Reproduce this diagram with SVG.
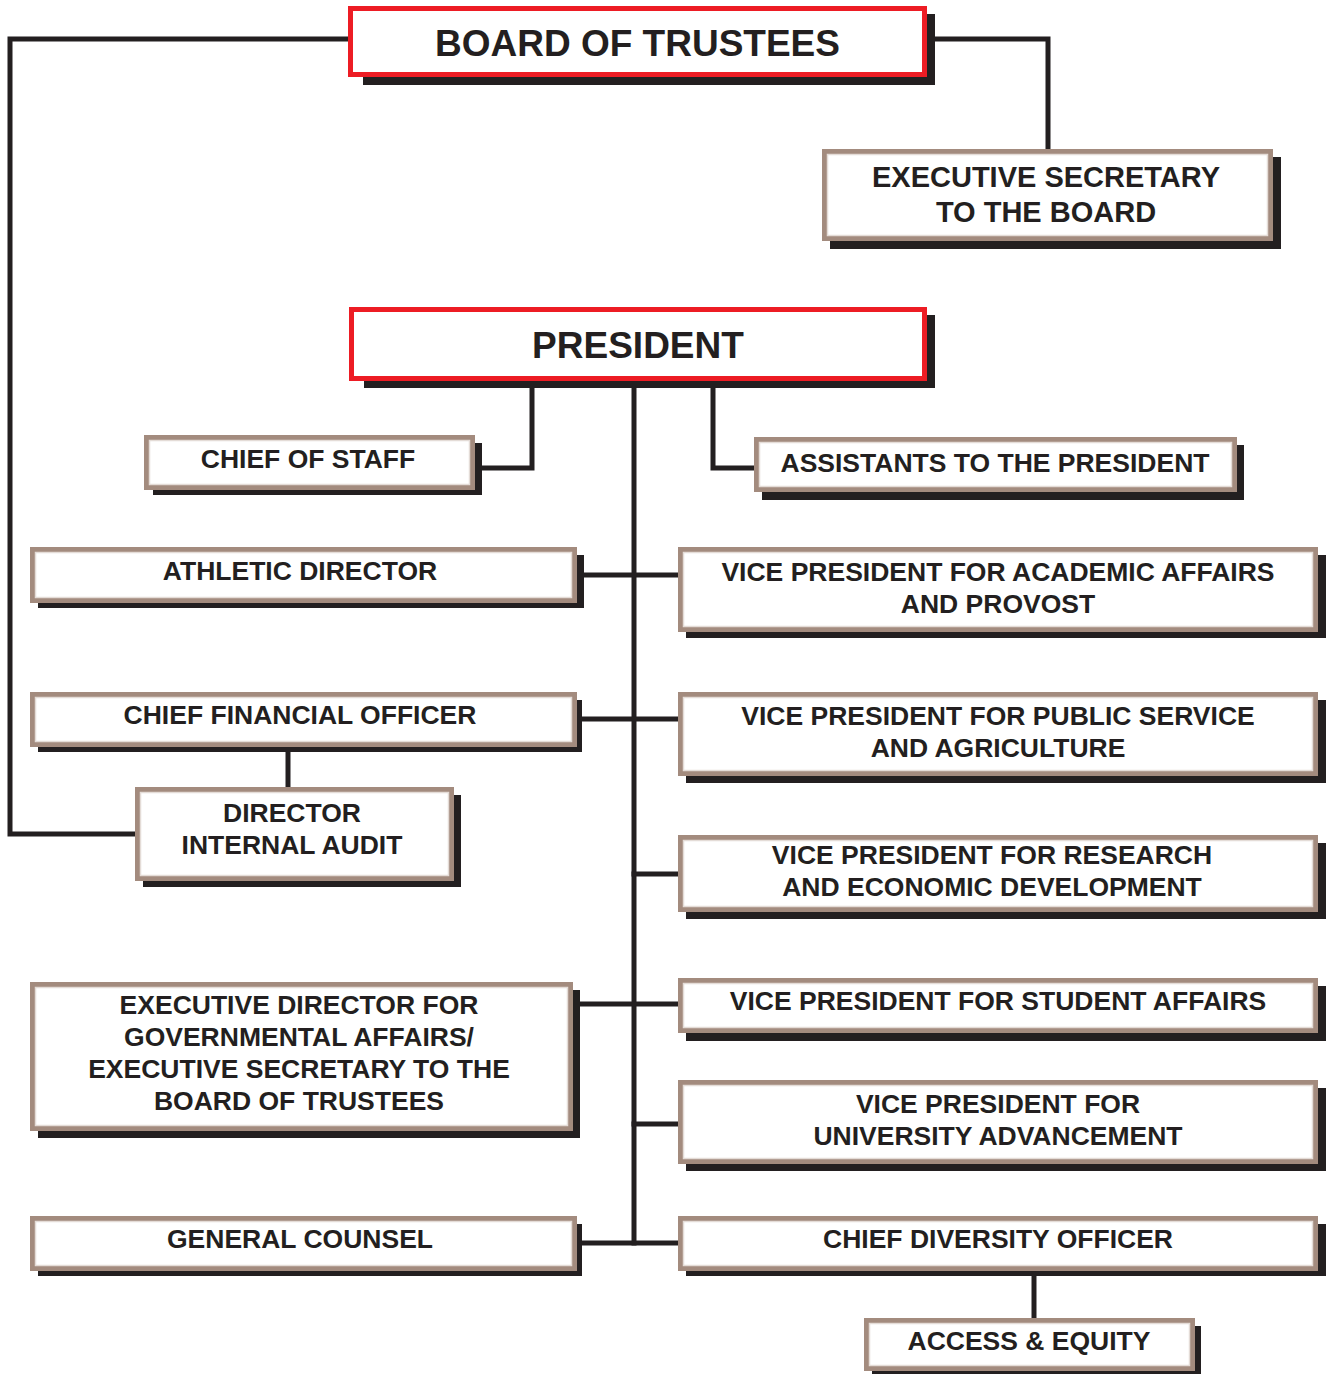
<svg xmlns="http://www.w3.org/2000/svg" width="1328" height="1374" viewBox="0 0 1328 1374">
<style>
.sh{fill:#231f20}
.bx{fill:#ffffff;stroke:#a38b7e;stroke-width:5}
.hl{fill:none;stroke:#e4dcd7;stroke-width:1.5}
.rb{fill:#ffffff;stroke:#ed1c24;stroke-width:5}
.t{font-family:"Liberation Sans",Arial,sans-serif;font-weight:bold;font-size:26.5px;fill:#231f20;text-anchor:middle}
.tl{font-size:37px}
.tm{font-size:29px}
.c{fill:none;stroke:#231f20;stroke-width:5;stroke-linecap:square}
</style>
<rect width="1328" height="1374" fill="#ffffff"/>
<g id="connectors">
<path class="c" d="M348,39 H10 V834 H135"/>
<path class="c" d="M927,39 H1048 V149"/>
<path class="c" d="M634,381 V1243"/>
<path class="c" d="M532,381 V468 H475"/>
<path class="c" d="M713,381 V468 H754"/>
<path class="c" d="M577,575 H678"/>
<path class="c" d="M577,719 H678"/>
<path class="c" d="M634,874 H678"/>
<path class="c" d="M573,1004 H678"/>
<path class="c" d="M634,1124 H678"/>
<path class="c" d="M577,1243 H678"/>
<path class="c" d="M288,747 V787"/>
<path class="c" d="M1034,1271 V1318"/>
</g>
<g id="board">
<rect class="sh" x="363" y="14" width="572" height="71"/>
<rect class="rb" x="350.5" y="8.5" width="574" height="66"/>
<text class="t tl" x="637.5" y="56">BOARD OF TRUSTEES</text>
</g>
<g id="exec-secretary">
<rect class="sh" x="830" y="157" width="451" height="92"/>
<rect class="bx" x="824.5" y="151.5" width="446" height="87"/>
<rect class="hl" x="827.5" y="154.5" width="440" height="81"/>
<text class="t tm" x="1046" y="187">EXECUTIVE SECRETARY</text>
<text class="t tm" x="1046" y="222">TO THE BOARD</text>
</g>
<g id="president">
<rect class="sh" x="364" y="315" width="571" height="73"/>
<rect class="rb" x="351.5" y="309.5" width="573" height="69"/>
<text class="t tl" x="638" y="358">PRESIDENT</text>
</g>
<g id="chief-of-staff">
<rect class="sh" x="153" y="443" width="329" height="52"/>
<rect class="bx" x="146.5" y="437.5" width="326" height="50"/>
<rect class="hl" x="149.5" y="440.5" width="320" height="44"/>
<text class="t" x="308" y="468">CHIEF OF STAFF</text>
</g>
<g id="assistants">
<rect class="sh" x="762" y="445" width="482" height="55"/>
<rect class="bx" x="756.5" y="439.5" width="478" height="50"/>
<rect class="hl" x="759.5" y="442.5" width="472" height="44"/>
<text class="t" x="995" y="472">ASSISTANTS TO THE PRESIDENT</text>
</g>
<g id="athletic-director">
<rect class="sh" x="38" y="555" width="546" height="53"/>
<rect class="bx" x="32.5" y="549.5" width="542" height="51"/>
<rect class="hl" x="35.5" y="552.5" width="536" height="45"/>
<text class="t" x="300" y="580">ATHLETIC DIRECTOR</text>
</g>
<g id="vp-academic">
<rect class="sh" x="686" y="555" width="640" height="83"/>
<rect class="bx" x="680.5" y="549.5" width="635" height="80"/>
<rect class="hl" x="683.5" y="552.5" width="629" height="74"/>
<text class="t" x="998" y="581">VICE PRESIDENT FOR ACADEMIC AFFAIRS</text>
<text class="t" x="998" y="613">AND PROVOST</text>
</g>
<g id="cfo">
<rect class="sh" x="38" y="700" width="544" height="52"/>
<rect class="bx" x="32.5" y="694.5" width="542" height="50"/>
<rect class="hl" x="35.5" y="697.5" width="536" height="44"/>
<text class="t" x="300" y="724">CHIEF FINANCIAL OFFICER</text>
</g>
<g id="vp-public-service">
<rect class="sh" x="686" y="700" width="640" height="83"/>
<rect class="bx" x="680.5" y="694.5" width="635" height="79"/>
<rect class="hl" x="683.5" y="697.5" width="629" height="73"/>
<text class="t" x="998" y="725">VICE PRESIDENT FOR PUBLIC SERVICE</text>
<text class="t" x="998" y="757">AND AGRICULTURE</text>
</g>
<g id="director-internal-audit">
<rect class="sh" x="143" y="795" width="318" height="92"/>
<rect class="bx" x="137.5" y="789.5" width="314" height="89"/>
<rect class="hl" x="140.5" y="792.5" width="308" height="83"/>
<text class="t" x="292" y="822">DIRECTOR</text>
<text class="t" x="292" y="854">INTERNAL AUDIT</text>
</g>
<g id="vp-research">
<rect class="sh" x="686" y="843" width="640" height="76"/>
<rect class="bx" x="680.5" y="837.5" width="635" height="72"/>
<rect class="hl" x="683.5" y="840.5" width="629" height="66"/>
<text class="t" x="992" y="864">VICE PRESIDENT FOR RESEARCH</text>
<text class="t" x="992" y="896">AND ECONOMIC DEVELOPMENT</text>
</g>
<g id="exec-director">
<rect class="sh" x="38" y="990" width="542" height="148"/>
<rect class="bx" x="32.5" y="984.5" width="538" height="144"/>
<rect class="hl" x="35.5" y="987.5" width="532" height="138"/>
<text class="t" x="299" y="1014">EXECUTIVE DIRECTOR FOR</text>
<text class="t" x="299" y="1046">GOVERNMENTAL AFFAIRS/</text>
<text class="t" x="299" y="1078">EXECUTIVE SECRETARY TO THE</text>
<text class="t" x="299" y="1110">BOARD OF TRUSTEES</text>
</g>
<g id="vp-student-affairs">
<rect class="sh" x="686" y="986" width="640" height="55"/>
<rect class="bx" x="680.5" y="980.5" width="635" height="50"/>
<rect class="hl" x="683.5" y="983.5" width="629" height="44"/>
<text class="t" x="998" y="1010">VICE PRESIDENT FOR STUDENT AFFAIRS</text>
</g>
<g id="vp-advancement">
<rect class="sh" x="686" y="1088" width="640" height="83"/>
<rect class="bx" x="680.5" y="1082.5" width="635" height="79"/>
<rect class="hl" x="683.5" y="1085.5" width="629" height="73"/>
<text class="t" x="998" y="1113">VICE PRESIDENT FOR</text>
<text class="t" x="998" y="1145">UNIVERSITY ADVANCEMENT</text>
</g>
<g id="general-counsel">
<rect class="sh" x="38" y="1224" width="544" height="52"/>
<rect class="bx" x="32.5" y="1218.5" width="542" height="50"/>
<rect class="hl" x="35.5" y="1221.5" width="536" height="44"/>
<text class="t" x="300" y="1248">GENERAL COUNSEL</text>
</g>
<g id="chief-diversity-officer">
<rect class="sh" x="686" y="1224" width="640" height="52"/>
<rect class="bx" x="680.5" y="1218.5" width="635" height="50"/>
<rect class="hl" x="683.5" y="1221.5" width="629" height="44"/>
<text class="t" x="998" y="1248">CHIEF DIVERSITY OFFICER</text>
</g>
<g id="access-equity">
<rect class="sh" x="872" y="1326" width="329" height="52"/>
<rect class="bx" x="866.5" y="1320.5" width="326" height="48"/>
<rect class="hl" x="869.5" y="1323.5" width="320" height="42"/>
<text class="t" x="1029" y="1350">ACCESS &amp; EQUITY</text>
</g>
</svg>
